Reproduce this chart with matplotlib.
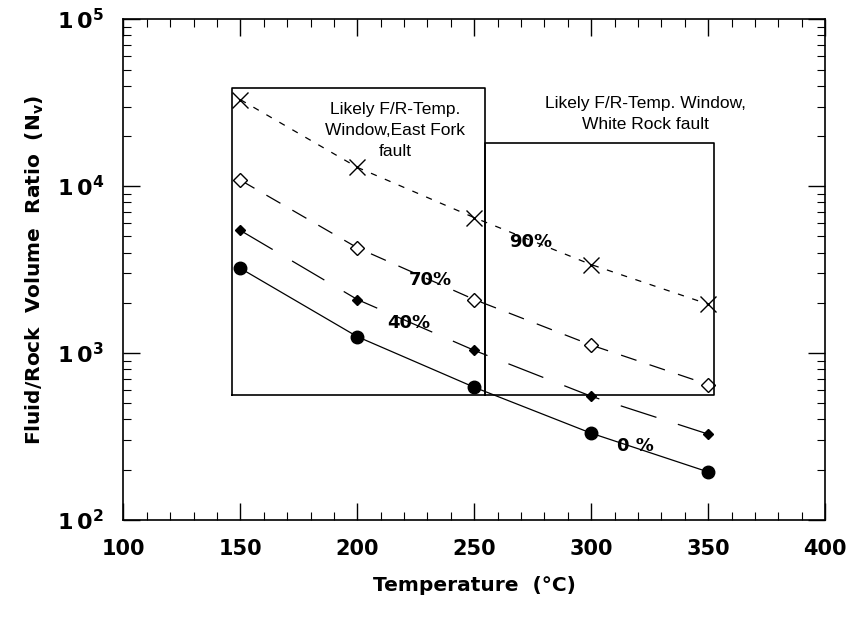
import matplotlib
matplotlib.use("Agg")
import matplotlib.pyplot as plt
from matplotlib.ticker import FixedLocator, LogLocator, NullFormatter, MultipleLocator

plt.rcParams['font.family'] = ['Liberation Sans', 'DejaVu Sans']
plt.rcParams['mathtext.fontset'] = 'custom'
plt.rcParams['mathtext.rm'] = 'DejaVu Sans:bold'
plt.rcParams['mathtext.bf'] = 'DejaVu Sans:bold'
plt.rcParams['mathtext.it'] = 'DejaVu Sans:bold'

# ---- data ----
temps = [150, 200, 250, 300, 350]
nv_90 = [33000, 12970, 6480, 3390, 1964]
nv_70 = [10870, 4275, 2094, 1117, 648]
nv_40 = [5430, 2094, 1038, 551, 327]
nv_0 = [3220, 1254, 624, 331, 194]

series_labels = ['90%', '70%', '40%', '0 %']
label_pos_x = [274, 231, 222, 319]
label_pos_y = [4636, 2740, 1514, 277]

box1_x = [146.3, 254.6]
box1_y = [558, 38800]
box2_x = [254.6, 352.5]
box2_y = [558, 18230]
box1_text = "Likely F/R-Temp.\nWindow,East Fork\nfault"
box2_text = "Likely F/R-Temp. Window,\nWhite Rock fault"

xticks = [100, 150, 200, 250, 300, 350, 400]
yticks = [1e2, 1e3, 1e4, 1e5]
ytick_labels = [r'$\mathbf{1\,0^{2}}$', r'$\mathbf{1\,0^{3}}$',
                r'$\mathbf{1\,0^{4}}$', r'$\mathbf{1\,0^{5}}$']

bold_font = ['DejaVu Sans']

fig = plt.figure(figsize=(8.55, 6.19), dpi=100)
ax = fig.add_axes([0.1444, 0.16, 0.8206, 0.8088])
ax.set_yscale('log')
ax.set_xlim(100, 400)
ax.set_ylim(1e2, 1e5)

k = 'black'
ax.plot(temps, nv_90, color=k, lw=0.9, dashes=(5, 7), marker='x', ms=11, mew=1.0)
ax.plot(temps, nv_70, color=k, lw=0.9, dashes=(13, 11), marker='D', ms=7.5,
        mfc='white', mec=k, mew=1.0)
ax.plot(temps, nv_40, color=k, lw=0.9, dashes=(30, 18), marker='D', ms=5, mfc=k, mec=k)
ax.plot(temps, nv_0, color=k, lw=0.9, ls='-', marker='o', ms=9, mfc=k, mec=k)

for (bx, by) in [(box1_x, box1_y), (box2_x, box2_y)]:
    ax.plot([bx[0], bx[1], bx[1], bx[0], bx[0]], [by[0], by[0], by[1], by[1], by[0]],
            color=k, lw=1.2)

ax.text(216.1, 21700, box1_text, ha='center', va='center', fontsize=12.5, linespacing=1.5)
ax.text(323, 27100, box2_text, ha='center', va='center', fontsize=12.5, linespacing=1.55)

for lab, lx, ly in zip(series_labels, label_pos_x, label_pos_y):
    ax.text(lx, ly, lab, ha='center', va='center', fontsize=13, fontweight='bold',
            family=bold_font)

ax.xaxis.set_major_locator(FixedLocator(xticks))
ax.xaxis.set_minor_locator(MultipleLocator(10))
ax.set_xticklabels([str(t) for t in xticks], fontsize=15, fontweight='bold', family=bold_font)
ax.yaxis.set_major_locator(FixedLocator(yticks))
ax.yaxis.set_minor_locator(LogLocator(base=10, subs=range(2, 10)))
ax.yaxis.set_minor_formatter(NullFormatter())
ax.set_yticklabels(ytick_labels, fontsize=16)

ax.tick_params(which='both', direction='in', top=True, right=True, color=k)
ax.tick_params(which='major', length=12, width=1.0)
ax.tick_params(which='minor', length=6, width=0.8)
ax.tick_params(axis='x', which='major', pad=14)
ax.tick_params(axis='y', which='major', pad=14)
for s in ax.spines.values():
    s.set_linewidth(1.2)

ax.set_xlabel('Temperature  (°C)', fontsize=14.5, fontweight='bold', labelpad=12,
              family=bold_font)
ax.set_ylabel(r'Fluid/Rock  Volume  Ratio  (N$_{\mathbf{v}}$)', fontsize=14.5,
              fontweight='bold', labelpad=8, family=bold_font)

fig.savefig('out.png', dpi=100)
